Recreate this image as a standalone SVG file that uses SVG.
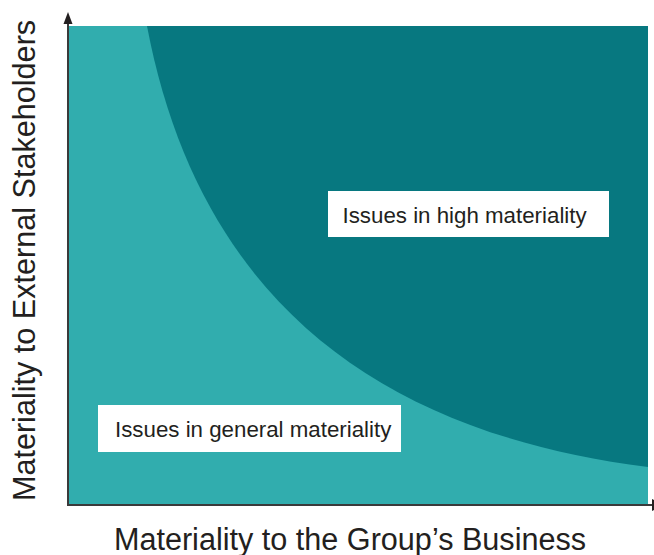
<svg xmlns="http://www.w3.org/2000/svg" width="654" height="555" viewBox="0 0 654 555">
<style>
.lbl{font-family:"Liberation Sans",Arial,sans-serif;font-size:22.3px;fill:#231f20}
.ttl{font-family:"Liberation Sans",Arial,sans-serif;font-size:30.6px;fill:#231f20}
.box{fill:#ffffff}
.axis{stroke:#3a3a3a;stroke-width:2;fill:none}
.head{fill:#231f20}
</style>
<rect width="654" height="555" fill="#ffffff"/>
<g id="general-region">
<rect x="68" y="26" width="580" height="479" fill="#31adae"/>
</g>
<g id="high-region">
<path d="M147,26 C198.7,298 376,432.7 648,467 L648,26 Z" fill="#077880"/>
</g>
<g id="connectors">
<line class="axis" x1="68" y1="506" x2="68" y2="22"/>
<polygon class="head" points="68,12 63.5,24 72.5,24"/>
<line class="axis" x1="67" y1="505" x2="654" y2="505"/>
<polygon class="head" points="652,499 664,505 652,511"/>
</g>
<g id="label-high">
<rect class="box" x="328" y="191" width="281" height="46"/>
<text class="lbl" x="342.5" y="222.5">Issues in high materiality</text>
</g>
<g id="label-general">
<rect class="box" x="98" y="405" width="303" height="47"/>
<text class="lbl" x="115" y="436.5">Issues in general materiality</text>
</g>
<g id="x-title">
<text class="ttl" x="350" y="550" text-anchor="middle">Materiality to the Group’s Business</text>
</g>
<g id="y-title">
<text class="ttl" transform="translate(35,260.5) rotate(-90)" text-anchor="middle">Materiality to External Stakeholders</text>
</g>
</svg>
